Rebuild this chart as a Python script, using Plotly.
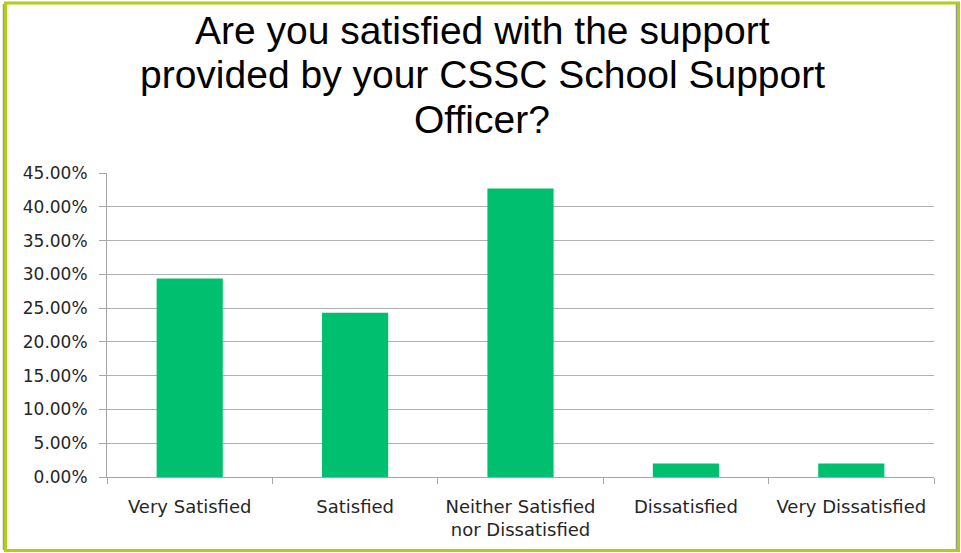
import plotly.graph_objects as go

categories = ["Very Satisfied", "Satisfied", "Neither Satisfied<br>nor Dissatisfied", "Dissatisfied", "Very Dissatisfied"]
values = [29.4, 24.3, 42.7, 2.0, 2.0]
y_ticks = [0, 5, 10, 15, 20, 25, 30, 35, 40, 45]
y_tick_labels = [f"{v:.2f}%" for v in y_ticks]
title_lines = ["Are you satisfied with the support", "provided by your CSSC School Support", "Officer?"]
title_line_centers_px = [30, 75, 119]

W, H = 961, 553
L, R, T, B = 107, 27, 173, 76
pw, ph = W - L - R, H - T - B

def px_x(px):
    return (px - L) / pw

def px_y(py):
    return (H - B - py) / ph

fig = go.Figure(go.Bar(x=categories, y=values, marker=dict(color="#00BF6F", line=dict(width=0))))

annotations = [
    dict(text=t, xref="paper", yref="paper", x=px_x(482), y=px_y(c), xanchor="center", yanchor="middle",
         showarrow=False, font=dict(family="Liberation Sans, Arial", size=39, color="black"))
    for t, c in zip(title_lines, title_line_centers_px)
]

fig.update_layout(
    width=W, height=H,
    margin=dict(l=L, r=R, t=T, b=B),
    paper_bgcolor="white", plot_bgcolor="white",
    showlegend=False,
    bargap=0.6,
    font=dict(family="DejaVu Sans", size=17, color="#262626"),
    annotations=annotations,
    xaxis=dict(showline=True, linecolor="#a6a6a6", linewidth=1, ticks="outside", ticklen=6,
               tickcolor="#a6a6a6", tickson="boundaries", tickfont=dict(size=18, color="#262626"),
               showgrid=False, ticklabelstandoff=13),
    yaxis=dict(range=[0, 45], tickvals=y_ticks, ticktext=y_tick_labels, showline=True,
               linecolor="#a6a6a6", linewidth=1, ticks="outside", ticklen=7, tickcolor="#a6a6a6",
               gridcolor="#b0b0b0", gridwidth=1, zeroline=False, tickfont=dict(size=17, color="#262626"),
               ticklabelstandoff=8),
    shapes=[
        dict(type="line", xref="paper", yref="paper", x0=px_x(3.5), x1=px_x(3.5), y0=px_y(550), y1=px_y(4),
             line=dict(color="#9a9a9a", width=1.5), layer="below"),
        dict(type="line", xref="paper", yref="paper", x0=px_x(956.5), x1=px_x(956.5), y0=px_y(550), y1=px_y(4),
             line=dict(color="#9a9a9a", width=1.5), layer="below"),
        dict(type="rect", xref="paper", yref="paper", x0=px_x(5.5), x1=px_x(958.5), y0=px_y(550.5), y1=px_y(3),
             line=dict(color="#b3cc1a", width=3), fillcolor="rgba(0,0,0,0)", layer="below"),
    ],
)

fig.write_html("out.html")
